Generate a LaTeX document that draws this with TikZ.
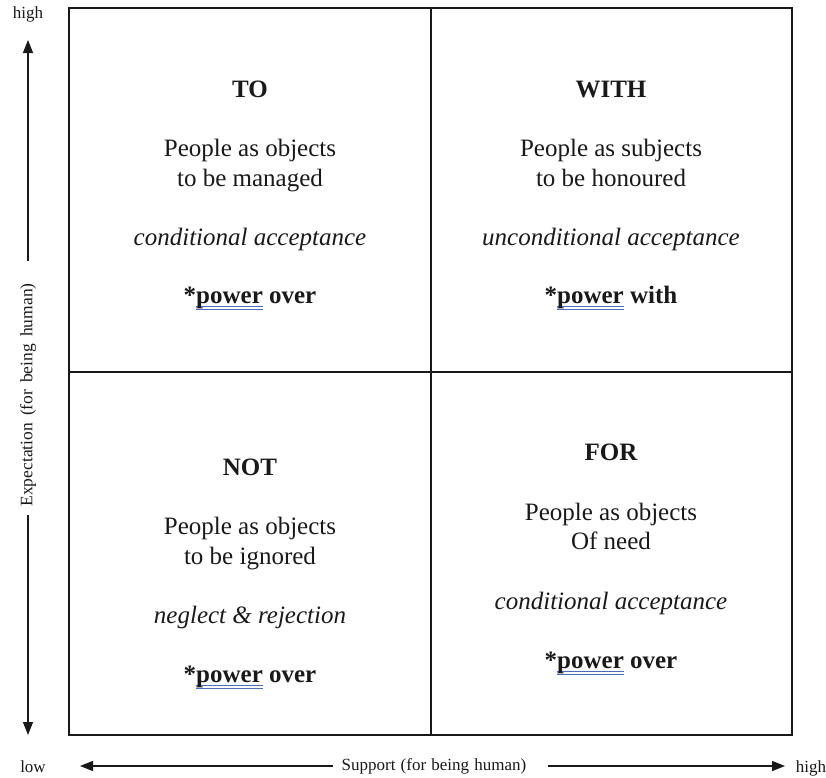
\documentclass[tikz,border=0pt]{standalone}
\usepackage{fontspec}
\setmainfont{Liberation Serif}
\usetikzlibrary{arrows.meta}
\definecolor{ulblue}{RGB}{72,108,190}
\definecolor{ink}{RGB}{25,25,25}
% blue double underline under a word
\newcommand\spellul[1]{\setbox0=\hbox{#1}\leavevmode
  \rlap{\color{ulblue}\vrule width\wd0 height -3pt depth 4.4pt}%
  \rlap{\color{ulblue}\vrule width\wd0 height -5.6pt depth 6.8pt}%
  \box0\relax}
% axis label fonts with loose word spacing
\newcommand\axisfont{\fontsize{17}{20}\selectfont\spaceskip=5.2pt plus 2pt\relax}
\newcommand\vaxisfont{\fontsize{17.5}{20}\selectfont\spaceskip=7pt plus 2pt\relax}
\begin{document}
\begin{tikzpicture}[x=1pt,y=-1pt,
  big/.style={font=\fontsize{25}{30}\selectfont, text=ink, inner sep=0pt, anchor=base},
  title/.style={big, font=\fontsize{25}{30}\selectfont\bfseries},
  slant/.style={big, font=\fontsize{25}{30}\selectfont\itshape},
  power/.style={big, font=\fontsize{25}{30}\selectfont\bfseries},
  small/.style={font=\axisfont, text=ink, inner sep=0pt},
  frame/.style={line width=1.5pt, draw=ink},
  axis/.style={line width=1.3pt, draw=ink, -{Triangle[length=13pt,width=10pt]}}]
\useasboundingbox (0,0) rectangle (826,777);

% the four quadrants
\draw[frame] (69,8) rectangle (792,735);
\draw[frame] (431,8) -- (431,735);
\draw[frame] (69,372) -- (792,372);

% TO
\node[title] (toT)  at (250,97)    {TO};
\node[big]   (toB1) at (250,156.5) {People as objects};
\node[big]   (toB2) at (250,186.5) {to be managed};
\node[slant] (toA)  at (250,245)   {conditional acceptance};
\node[power] (toP)  at (250,303)   {*\spellul{power} over};

% WITH
\node[title] (wiT)  at (611,97)    {WITH};
\node[big]   (wiB1) at (611,156.5) {People as subjects};
\node[big]   (wiB2) at (611,186.5) {to be honoured};
\node[slant] (wiA)  at (611,245)   {unconditional acceptance};
\node[power] (wiP)  at (611,303)   {*\spellul{power} with};

% NOT
\node[title] (noT)  at (250,475)   {NOT};
\node[big]   (noB1) at (250,534.5) {People as objects};
\node[big]   (noB2) at (250,564.5) {to be ignored};
\node[slant] (noA)  at (250,623)   {neglect \& rejection};
\node[power] (noP)  at (250,682)   {*\spellul{power} over};

% FOR
\node[title] (foT)  at (611,460)   {FOR};
\node[big]   (foB1) at (611,520.5) {People as objects};
\node[big]   (foB2) at (611,549.5) {Of need};
\node[slant] (foA)  at (611,609)   {conditional acceptance};
\node[power] (foP)  at (611,668)   {*\spellul{power} over};

% vertical axis
\node[small] (yhigh) at (28,14) {high};
\node[small, font=\vaxisfont, rotate=90, minimum width=240pt] (ylab) at (28,395) {Expectation (for being human)};
\coordinate (ytop) at (28,40);
\coordinate (ybot) at (28,735);
\draw[axis, shorten <=14pt] (ylab.east) -- (ytop);
\draw[axis] (ylab.west) -- (ybot);

% horizontal axis
\node[small] (xlow) at (33,767) {low};
\node[small] (xhigh) at (811,768) {high};
\node[small, minimum width=202pt] (xlab) at (434,766) {Support (for being human)};
\coordinate (xleft) at (80,766);
\coordinate (xright) at (785,766);
\draw[axis] (xlab.west) -- (xleft);
\draw[axis, shorten <=13pt] (xlab.east) -- (xright);
\end{tikzpicture}
\end{document}
